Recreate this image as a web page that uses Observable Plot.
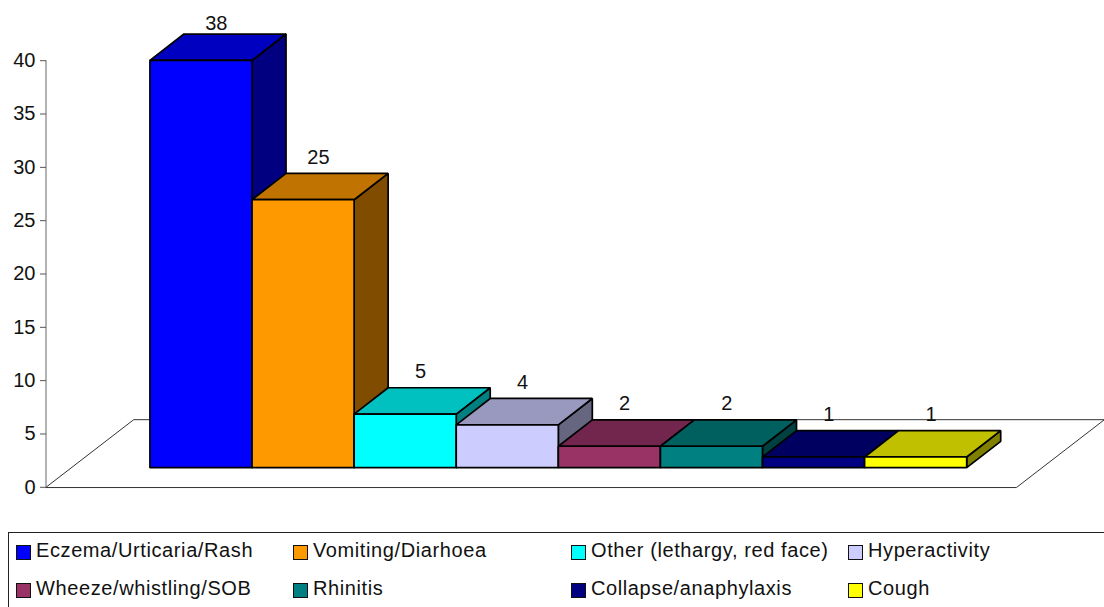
<!DOCTYPE html>
<html>
<head>
<meta charset="utf-8">
<script src="https://cdn.jsdelivr.net/npm/d3@7"></script>
<script src="https://cdn.jsdelivr.net/npm/@observablehq/plot@0.6"></script>
<style>
  html, body { margin: 0; padding: 0; background: #fff; overflow: hidden; }
  #chart svg { display: block; }
  #legend {
    position: relative; box-sizing: border-box; margin: 0 0 0 8px;
    width: 1097px; height: 75px; border: 1px solid #222; border-right: 0; border-bottom: 0;
    font: 20px "Liberation Sans", Arial, sans-serif; letter-spacing: 0.6px; color: #111;
  }
  .entry { position: absolute; display: flex; align-items: center; white-space: nowrap; height: 20px; }
  .swatch { box-sizing: border-box; width: 15px; height: 15px; border: 1.5px solid #111; margin-right: 5px; flex: none; }
  .name { position: relative; top: -2px; }
</style>
</head>
<body>
<div id="chart"></div>
<div id="legend"></div>
<script>
// Reported reaction symptoms and how many cases showed each one
const symptoms = [
  "Eczema/Urticaria/Rash", "Vomiting/Diarhoea", "Other (lethargy, red face)", "Hyperactivity",
  "Wheeze/whistling/SOB", "Rhinitis", "Collapse/anaphylaxis", "Cough"
];
const counts = [38, 25, 5, 4, 2, 2, 1, 1];
const frontColors = ["#0000ff", "#ff9900", "#00ffff", "#ccccff", "#993366", "#008080", "#000080", "#ffff00"];
const topColors = ["#0000c0", "#c07300", "#00c0c0", "#9999c0", "#73264d", "#006060", "#000060", "#c0c000"];
const sideColors = ["#000080", "#804d00", "#008080", "#666680", "#4d1a33", "#004040", "#000040", "#808000"];

// Extruded-column geometry, in data units: x counts columns, y counts cases
const barBase = 1.84;       // columns stand partway back on the floor
const barGain = 1.005;      // the column plane reads slightly taller than the axis plane
const barDepthX = 0.333;
const barDepthY = 2.47;
const floorLeft = -1.018;
const floorRight = 8.49;
const floorDepthX = 0.859;
const floorDepthY = 6.34;

const floor = [
  [floorLeft, 0], [floorLeft + floorDepthX, floorDepthY],
  [floorRight + floorDepthX, floorDepthY], [floorRight, 0]
].map(([x, y]) => ({x, y}));

// Faces are listed back to front so later columns overlap earlier ones
const faces = counts.flatMap((count, i) => {
  const top = barBase + count * barGain;
  const quad = (name, fill, pts) => pts.map(([x, y]) => ({x, y, id: `${i}-${name}`, fill}));
  return [
    ...quad("side", sideColors[i], [[i + 1, barBase], [i + 1 + barDepthX, barBase + barDepthY], [i + 1 + barDepthX, top + barDepthY], [i + 1, top]]),
    ...quad("top", topColors[i], [[i, top], [i + barDepthX, top + barDepthY], [i + 1 + barDepthX, top + barDepthY], [i + 1, top]]),
    ...quad("front", frontColors[i], [[i, barBase], [i, top], [i + 1, top], [i + 1, barBase]])
  ];
});

const labels = counts.map((count, i) => ({
  x: i + 0.5 + 0.15,
  y: Math.min(barBase + count * barGain + barDepthY + 1.5, 43.5),
  count
}));

const chart = Plot.plot({
  width: 1104,
  height: 532,
  marginLeft: 46,
  marginRight: 0,
  marginTop: 0,
  marginBottom: 0,
  style: {background: "#fff", color: "#111", fontFamily: "'Liberation Sans', Arial, sans-serif"},
  x: {domain: [floorLeft, 8], range: [45.5, 966.2], axis: null},
  y: {domain: [0, 40], range: [486.8, 60.2], ticks: 8},
  color: {type: "identity"},
  marks: [
    Plot.line(floor, {x: "x", y: "y", curve: "linear-closed", stroke: "#333", strokeWidth: 1, fill: "#fff"}),
    Plot.ruleX([floorLeft], {y1: 0, y2: 40, stroke: "#666", strokeWidth: 1}),
    Plot.axisY({
      ticks: d3.range(0, 45, 5), tickSize: 6, tickPadding: 5, fontSize: 20,
      stroke: "#555", color: "#111", label: null, marginLeft: 46
    }),
    Plot.line(faces, {
      x: "x", y: "y", z: "id", fill: "fill", curve: "linear-closed",
      stroke: "#000", strokeWidth: 1.7, strokeLinejoin: "miter"
    }),
    Plot.text(labels, {x: "x", y: "y", text: "count", fontSize: 20, fill: "#111"})
  ]
});
document.getElementById("chart").append(chart);

// Four-column legend, one swatch per symptom
const legend = document.getElementById("legend");
const columnLefts = [7, 284, 562, 839];
const rowTops = [9.5, 47.5];
symptoms.forEach((name, i) => {
  const entry = document.createElement("div");
  entry.className = "entry";
  entry.style.left = columnLefts[i % 4] + "px";
  entry.style.top = rowTops[Math.floor(i / 4)] + "px";
  const swatch = document.createElement("span");
  swatch.className = "swatch";
  swatch.style.background = frontColors[i];
  const text = document.createElement("span");
  text.className = "name";
  text.textContent = name;
  entry.append(swatch, text);
  legend.append(entry);
});
</script>
</body>
</html>
